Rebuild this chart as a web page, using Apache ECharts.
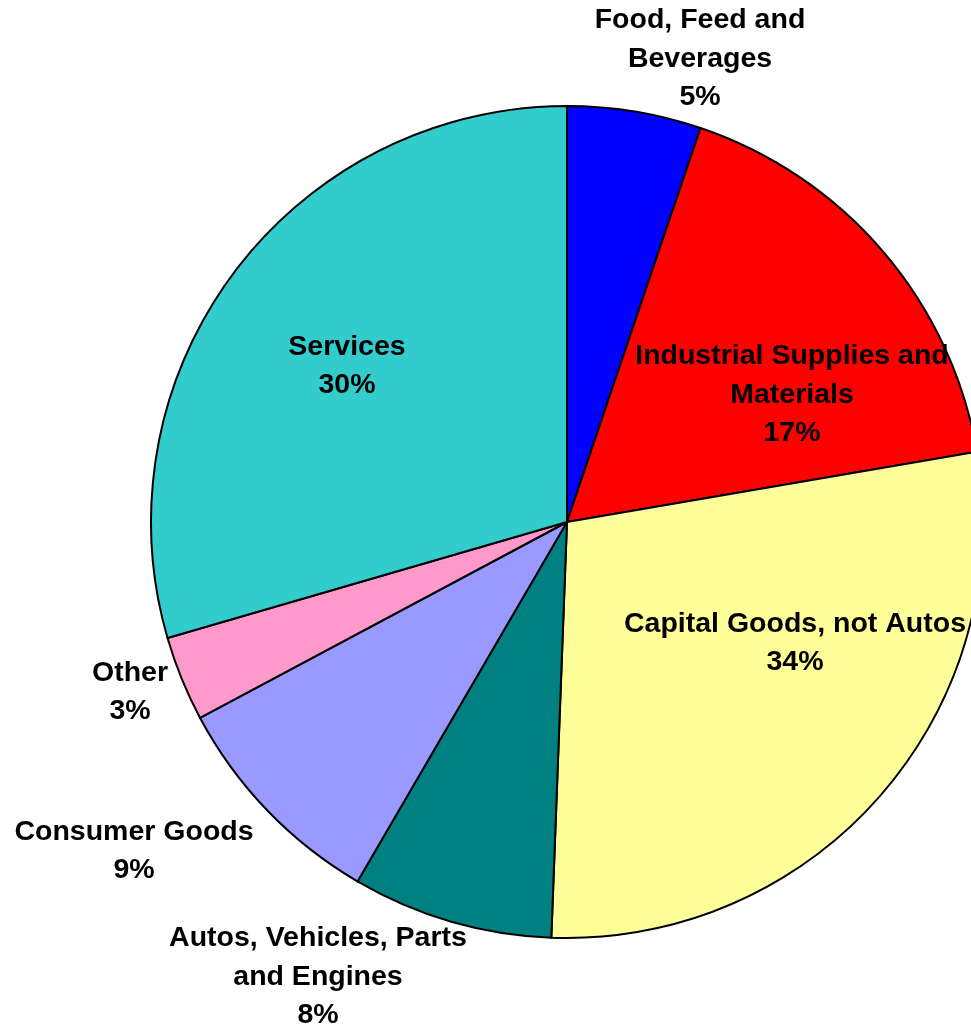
<!DOCTYPE html>
<html>
<head>
<meta charset="utf-8">
<script src="https://cdn.jsdelivr.net/npm/echarts@6/dist/echarts.min.js"></script>
<style>
  html, body { margin: 0; padding: 0; background: #fff; }
  #chart { width: 971px; height: 1025px; }
</style>
</head>
<body>
<div id="chart"></div>
<script>
// categories, clockwise from 12 o'clock
const categories = [
  'Food, Feed and\nBeverages',
  'Industrial Supplies and\nMaterials',
  'Capital Goods, not Autos',
  'Autos, Vehicles, Parts\nand Engines',
  'Consumer Goods',
  'Other',
  'Services'
]
// slice shares
const shares = [5.2, 17.1, 28.3, 7.8, 8.8, 3.3, 29.5]
// percent text printed on the labels
const labelPercents = ['5%', '17%', '34%', '8%', '9%', '3%', '30%']
const colors = ['#0000FF', '#FF0000', '#FFFF99', '#008080', '#9999FF', '#FF99CC', '#33CCCC']
// where each label block is centred
const labelPos = [
  [700, 59], [792, 395], [795, 643], [318, 977], [134, 851], [130, 692], [347, 366]
]

let myChart = echarts.init(document.getElementById('chart'))
myChart.setOption({
  animation: false,
  series: [
    {
      type: 'pie',
      center: [567, 522],
      radius: 416,
      startAngle: 90,
      clockwise: true,
      avoidLabelOverlap: false,
      itemStyle: {
        borderColor: '#000',
        borderWidth: 2
      },
      emphasis: { disabled: true },
      labelLine: { show: false },
      label: {
        show: true,
        position: 'inside',
        color: '#000',
        fontFamily: 'Liberation Sans, Arial, sans-serif',
        fontWeight: 'bold',
        fontSize: 28.5,
        lineHeight: 38.5,
        align: 'center',
        formatter: (p) => p.name + '\n' + labelPercents[p.dataIndex]
      },
      labelLayout: (p) => ({
        x: labelPos[p.dataIndex][0],
        y: labelPos[p.dataIndex][1],
        align: 'center',
        verticalAlign: 'middle'
      }),
      data: categories.map((c, i) => ({
        name: c,
        value: shares[i],
        itemStyle: { color: colors[i] }
      }))
    }
  ]
})
</script>
</body>
</html>
